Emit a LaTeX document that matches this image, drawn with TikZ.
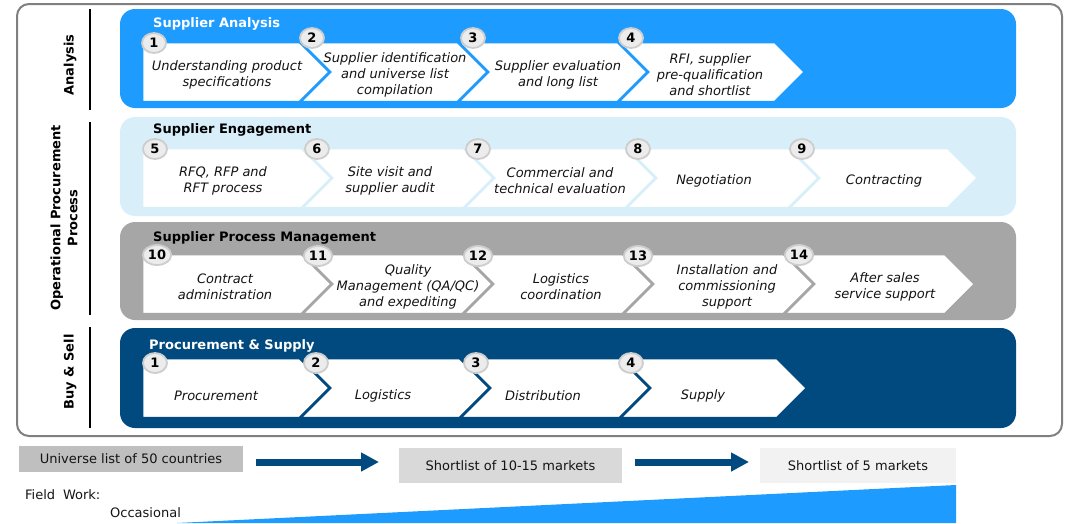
\documentclass[tikz,border=0pt]{standalone}
\usepackage{fontspec}
\setmainfont{DejaVu Sans}
\usetikzlibrary{arrows.meta,shapes.geometric}
\definecolor{bandA}{RGB}{30,155,255}
\definecolor{bandB}{RGB}{216,239,250}
\definecolor{bandC}{RGB}{166,166,166}
\definecolor{bandD}{RGB}{0,74,128}
\definecolor{numfill}{RGB}{236,236,236}
\definecolor{numdraw}{RGB}{205,205,205}
\definecolor{framecol}{RGB}{128,128,128}
\definecolor{boxA}{RGB}{191,191,191}
\definecolor{boxB}{RGB}{217,217,217}
\definecolor{boxC}{RGB}{242,242,242}
\definecolor{txt}{RGB}{20,20,20}
\newcommand\chevfirst[6]{\filldraw[chevstyle, draw=#6] (#1,#3) -- (#2,#3) -- ({#2+30},#4) -- (#2,#5) -- (#1,#5) -- cycle;}
\newcommand\chevnext[6]{\filldraw[chevstyle, draw=#6] (#1,#3) -- (#2,#3) -- ({#2+30},#4) -- (#2,#5) -- (#1,#5) -- ({#1+30},#4) -- cycle;}
\tikzset{
  chevstyle/.style={fill=white, line width=2.5pt, line join=miter},
  band/.style={rounded corners=15pt},
  num/.style={ellipse, fill=numfill, draw=numdraw, line width=1.8pt, inner xsep=1pt, inner ysep=0pt,
    minimum width=24pt, minimum height=20pt, font=\fontsize{13}{13}\selectfont\bfseries, text=black},
  ctext/.style={align=center, inner sep=0pt, font=\fontsize{13}{16}\selectfont\itshape, text=txt},
  title/.style={anchor=west, inner sep=0pt, font=\fontsize{13}{16}\selectfont\bfseries},
  side/.style={rotate=90, align=center, inner sep=0pt, font=\fontsize{13}{17}\selectfont\bfseries, text=black},
  sideline/.style={line width=2.5pt, black},
  lbox/.style={inner sep=0pt, font=\fontsize{13}{16}\selectfont, text=txt},
  bigarrow/.style={draw=bandD, line width=7pt, -{Triangle[length=18pt,width=18pt]}},
  plain/.style={anchor=west, inner sep=0pt, font=\fontsize{13}{16}\selectfont, text=txt}
}
\begin{document}
\begin{tikzpicture}[x=1pt,y=-1pt]
\useasboundingbox (0,0) rectangle (1071,523);
% outer frame
\draw[framecol, line width=2pt, rounded corners=12pt] (17,4) rectangle (1062,436);
% side labels
\draw[sideline] (90,9) -- (90,110);
\draw[sideline] (90,122) -- (90,315);
\draw[sideline] (90,327) -- (90,428);
\node[side] (sA) at (70,65) {Analysis};
\node[side] (sB) at (64,218) {Operational Procurement\\Process};
\node[side] (sC) at (70,372) {Buy \& Sell};
% bands
\fill[bandA, band] (120,9) rectangle (1016,108);
\fill[bandB, band] (120,117) rectangle (1016,216);
\fill[bandC, band] (120,222) rectangle (1016,320);
\fill[bandD, band] (120,328) rectangle (1016,428);
\node[title, text=white] (tt1) at (153,24) {Supplier Analysis};
\node[title, text=black] (tt2) at (153,130) {Supplier Engagement};
\node[title, text=black] (tt3) at (153,238) {Supplier Process Management};
\node[title, text=white] (tt4) at (149,346) {Procurement \& Supply};
% row 1
\chevfirst{142}{300}{42}{72}{102}{bandA}
\chevnext{300}{458}{42}{72}{102}{bandA}
\chevnext{458}{618}{42}{72}{102}{bandA}
\chevnext{618}{775}{42}{72}{102}{bandA}
\node[ctext] (c1) at (227,75) {Understanding product\\specifications};
\node[ctext] (c2) at (395,75) {Supplier identification\\and universe list\\compilation};
\node[ctext] (c3) at (558,75) {Supplier evaluation\\and long list};
\node[ctext] (c4) at (710,75) {RFI, supplier\\pre-qualification\\and shortlist};
\node[num] (n1) at (154,43) {1};
\node[num] (n2) at (312,38) {2};
\node[num] (n3) at (473,38) {3};
\node[num] (n4) at (631,38) {4};
% row 2
\chevfirst{142}{302}{148}{178}{208}{bandB}
\chevnext{302}{464}{148}{178}{208}{bandB}
\chevnext{464}{626}{148}{178}{208}{bandB}
\chevnext{626}{789}{148}{178}{208}{bandB}
\chevnext{789}{948}{148}{178}{208}{bandB}
\node[ctext] (c5) at (223,181) {RFQ, RFP and\\RFT process};
\node[ctext] (c6) at (390,181) {Site visit and\\supplier audit};
\node[ctext] (c7) at (560,181) {Commercial and\\technical evaluation};
\node[ctext] (c8) at (714,181) {Negotiation};
\node[ctext] (c9) at (884,181) {Contracting};
\node[num] (n5) at (155,149) {5};
\node[num] (n6) at (317,149) {6};
\node[num] (n7) at (478,149) {7};
\node[num] (n8) at (638,149) {8};
\node[num] (n9) at (802,149) {9};
% row 3
\chevfirst{142}{302}{254}{284}{314}{bandC}
\chevnext{302}{463}{254}{284}{314}{bandC}
\chevnext{463}{623}{254}{284}{314}{bandC}
\chevnext{623}{784}{254}{284}{314}{bandC}
\chevnext{784}{945}{254}{284}{314}{bandC}
\node[ctext] (c10) at (225,287) {Contract\\administration};
\node[ctext] (c11) at (408,287) {Quality\\Management (QA/QC)\\and expediting};
\node[ctext] (c12) at (561,287) {Logistics\\coordination};
\node[ctext] (c13) at (727,287) {Installation and\\commissioning\\support};
\node[ctext] (c14) at (885,287) {After sales\\service support};
\node[num] (n10) at (157,255) {10};
\node[num] (n11) at (318,256) {11};
\node[num] (n12) at (478,256) {12};
\node[num] (n13) at (638,256) {13};
\node[num] (n14) at (799,255) {14};
% row 4
\chevfirst{142}{300}{358}{388}{418}{bandD}
\chevnext{300}{460}{358}{388}{418}{bandD}
\chevnext{460}{620}{358}{388}{418}{bandD}
\chevnext{620}{777}{358}{388}{418}{bandD}
\node[ctext] (d1) at (216,396) {Procurement};
\node[ctext] (d2) at (383,396) {Logistics};
\node[ctext] (d3) at (543,396) {Distribution};
\node[ctext] (d4) at (703,396) {Supply};
\node[num] (m1) at (155,363) {1};
\node[num] (m2) at (316,363) {2};
\node[num] (m3) at (476,363) {3};
\node[num] (m4) at (631,363) {4};
% bottom
\fill[bandA] (177,523) -- (956,485) -- (956,523) -- cycle;
\node[lbox, fill=boxA, minimum width=224pt, minimum height=26pt] (b1) at (131,459) {Universe list of 50 countries};
\node[lbox, fill=boxB, minimum width=223pt, minimum height=35pt] (b2) at (510.5,465.5) {Shortlist of 10-15 markets};
\node[lbox, fill=boxC, minimum width=196pt, minimum height=35pt] (b3) at (858,465.5) {Shortlist of 5 markets};
\coordinate (a1s) at (256,462);
\coordinate (a1e) at (379,462);
\coordinate (a2s) at (635,462);
\coordinate (a2e) at (749,462);
\draw[bigarrow] (a1s) -- (a1e);
\draw[bigarrow] (a2s) -- (a2e);
\node[plain] (fw) at (25,495) {Field\hspace{0.6em}Work:};
\node[plain] (oc) at (110,513) {Occasional};
\end{tikzpicture}
\end{document}
